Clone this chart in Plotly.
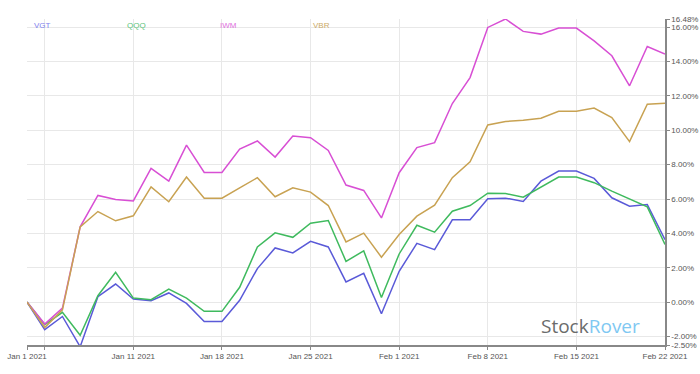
import plotly.graph_objects as go

dates = ["2021-01-01", "2021-01-04", "2021-01-05", "2021-01-06", "2021-01-07", "2021-01-08",
         "2021-01-11", "2021-01-12", "2021-01-13", "2021-01-14", "2021-01-15",
         "2021-01-18", "2021-01-19", "2021-01-20", "2021-01-21", "2021-01-22",
         "2021-01-25", "2021-01-26", "2021-01-27", "2021-01-28", "2021-01-29",
         "2021-02-01", "2021-02-02", "2021-02-03", "2021-02-04", "2021-02-05",
         "2021-02-08", "2021-02-09", "2021-02-10", "2021-02-11", "2021-02-12",
         "2021-02-15", "2021-02-16", "2021-02-17", "2021-02-18", "2021-02-19",
         "2021-02-22"]

vgt = [0, -1.61, -0.84, -2.6, 0.31, 1.05, 0.18, 0.08, 0.53, -0.08, -1.13, -1.13, 0.10,
       1.95, 3.15, 2.86, 3.54, 3.21, 1.17, 1.67, -0.68, 1.79, 3.42, 3.05, 4.79, 4.79,
       6.01, 6.05, 5.86, 7.04, 7.63, 7.63, 7.20, 6.07, 5.58, 5.68, 3.64]
qqq = [0, -1.32, -0.6, -1.93, 0.37, 1.73, 0.23, 0.14, 0.76, 0.23, -0.54, -0.54, 0.86,
       3.21, 4.03, 3.77, 4.59, 4.75, 2.37, 2.98, 0.27, 2.80, 4.47, 4.07, 5.29, 5.62,
       6.34, 6.32, 6.11, 6.69, 7.28, 7.28, 6.95, 6.46, 6.01, 5.54, 3.35]
iwm = [0, -1.28, -0.35, 4.38, 6.21, 5.97, 5.89, 7.78, 7.04, 9.14, 7.55, 7.55, 8.91,
       9.38, 8.44, 9.67, 9.57, 8.83, 6.81, 6.50, 4.90, 7.53, 8.99, 9.28, 11.56, 13.07,
       15.99, 16.48, 15.76, 15.60, 15.95, 15.95, 15.21, 14.34, 12.59, 14.88, 14.44]
vbr = [0, -1.48, -0.45, 4.38, 5.27, 4.73, 5.02, 6.71, 5.84, 7.28, 6.05, 6.05, 6.65,
       7.24, 6.13, 6.65, 6.40, 5.62, 3.50, 4.01, 2.61, 3.93, 5.00, 5.64, 7.24, 8.17,
       10.31, 10.51, 10.58, 10.70, 11.11, 11.11, 11.30, 10.74, 9.34, 11.52, 11.58]

series_names = ["VGT", "QQQ", "IWM", "VBR"]
series_values = [vgt, qqq, iwm, vbr]
colors = ["#5a5ad8", "#3fba5e", "#d84fd4", "#c8a252"]
legend_colors = ["#7f7fee", "#5cc47c", "#e070de", "#ccaa66"]

x_tick_vals = ["2021-01-01", "2021-01-04", "2021-01-11", "2021-01-18", "2021-01-25",
               "2021-02-01", "2021-02-08", "2021-02-15", "2021-02-22"]
x_tick_text = ["Jan 1 2021", "", "Jan 11 2021", "Jan 18 2021", "Jan 25 2021",
               "Feb 1 2021", "Feb 8 2021", "Feb 15 2021", "Feb 22 2021"]
y_tick_vals = [-2.5, -2, 0, 2, 4, 6, 8, 10, 12, 14, 16, 16.48]
y_tick_text = ["-2.50%", "-2.00%", "0.00%", "2.00%", "4.00%", "6.00%", "8.00%",
               "10.00%", "12.00%", "14.00%", "16.00%", "16.48%"]

ML, MR, MT, MB = 27, 35, 19, 29
W, H = 700, 374
plot_w = W - ML - MR
plot_h = H - MT - MB


def px_x(x):
    return (x - ML) / plot_w


def px_y(y):
    return (H - MB - y) / plot_h


fig = go.Figure()
for name, vals, col in zip(series_names, series_values, colors):
    fig.add_trace(go.Scatter(x=dates, y=vals, mode="lines", name=name,
                             line=dict(color=col, width=1.5), showlegend=False))

font_family = "Liberation Sans, Arial, sans-serif"
fig.update_layout(
    width=W, height=H,
    margin=dict(l=ML, r=MR, t=MT, b=MB, autoexpand=False),
    paper_bgcolor="white", plot_bgcolor="white",
    font=dict(family=font_family, size=8, color="#555555"),
    xaxis=dict(type="category", range=[0, 36], tickmode="array",
               tickvals=x_tick_vals, ticktext=x_tick_text,
               showgrid=True, gridcolor="#e8e8e8", gridwidth=1,
               showline=True, linecolor="#888888", linewidth=1.5,
               ticks="outside", ticklen=3, tickcolor="#888888",
               tickfont=dict(size=8, color="#555555"), zeroline=False),
    yaxis=dict(side="right", range=[-2.5, 16.48], tickmode="array",
               tickvals=y_tick_vals, ticktext=y_tick_text,
               showgrid=True, gridcolor="#e8e8e8", gridwidth=1,
               showline=True, linecolor="#888888", linewidth=1.5,
               ticks="outside", ticklen=3, tickcolor="#888888",
               tickfont=dict(size=8, color="#555555"), zeroline=False),
)

legend_x = [32, 125, 218, 311]
for name, col, lx in zip(series_names, legend_colors, legend_x):
    fig.add_annotation(x=px_x(lx), y=px_y(26), xref="paper", yref="paper", text=name,
                       showarrow=False, xanchor="left", yanchor="middle",
                       font=dict(size=8, color=col, family=font_family))

fig.add_annotation(x=px_x(590), y=px_y(326),
                   xref="paper", yref="paper",
                   text="<span style='color:#6b6b6b'>Stock</span><span style='color:#7fc8f2'>Rover</span>",
                   showarrow=False, xanchor="center", yanchor="middle",
                   font=dict(size=19, family="Open Sans, sans-serif"))

fig.write_html("out.html", config={"displayModeBar": False},
               post_script="document.body.style.margin='0';")
